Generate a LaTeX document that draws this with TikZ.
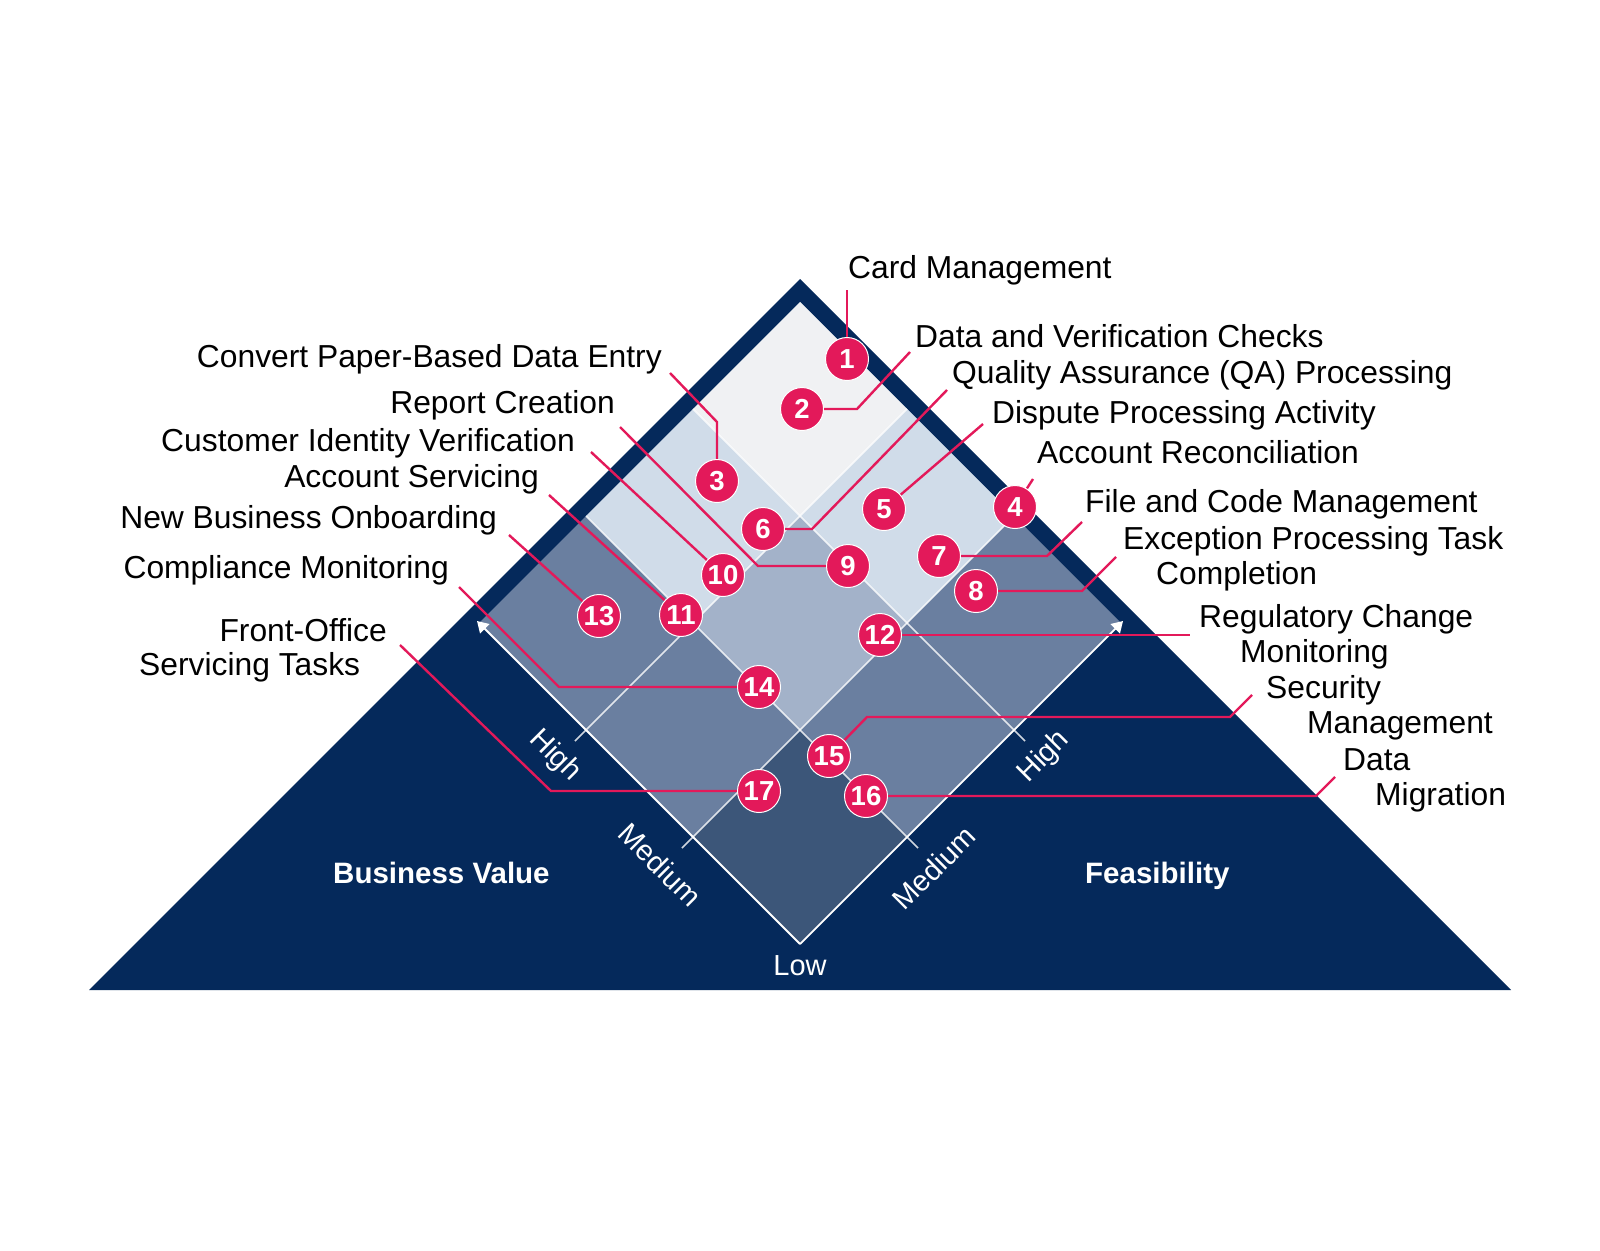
\documentclass[tikz,border=0pt]{standalone}
\usepackage{fontspec}
\setmainfont{Liberation Sans}
\usetikzlibrary{arrows.meta}
\definecolor{navy}{HTML}{05295B}
\definecolor{crim}{HTML}{E3195A}
\definecolor{cTop}{HTML}{F0F1F3}
\definecolor{cLight}{HTML}{D0DCE9}
\definecolor{cMid}{HTML}{A3B2C9}
\definecolor{cSlate}{HTML}{6A7FA0}
\definecolor{cDeep}{HTML}{3C5679}
\begin{document}
\begin{tikzpicture}[x=1pt,y=-1pt,
  bub/.style={circle, fill=crim, draw=white, line width=1pt, minimum size=43pt, inner sep=0pt, text=white, font=\fontsize{27.5}{27.5}\selectfont\bfseries},
  lead/.style={draw=crim, line width=2.4pt},
  lbl/.style={font=\fontsize{31.8}{36}\selectfont, text=black, inner sep=0pt},
  axl/.style={font=\fontsize{29}{34}\selectfont, text=white, inner sep=0pt},
  ttl/.style={font=\fontsize{29.5}{34}\selectfont\bfseries, text=white, inner sep=0pt},
  gridln/.style={draw=white, line width=1.6pt, opacity=0.8},
  edge/.style={draw=white, line width=1.8pt, -{Triangle[width=13pt,length=11pt]}},
]
\useasboundingbox (0,0) rectangle (1600,1250);
\fill[white] (0,0) rectangle (1600,1250);

% outer triangle
\fill[navy] (800,279) -- (1511,990) -- (89,990) -- cycle;

% diamond cells
\fill[cSlate] (800,944) -- (1121,623) -- (800,302) -- (479,623) -- cycle;
\fill[cDeep] (800,944) -- (907,837) -- (800,730) -- (693,837) -- cycle;
\fill[cMid] (800,730) -- (907,623) -- (800,516) -- (693,623) -- cycle;
\fill[cLight] (693,623) -- (800,516) -- (693,409) -- (586,516) -- cycle;
\fill[cLight] (907,623) -- (1014,516) -- (907,409) -- (800,516) -- cycle;
\fill[cTop] (800,516) -- (907,409) -- (800,302) -- (693,409) -- cycle;

% grid lines with ticks
\draw[gridln] (682,848) -- (1014,516);
\draw[gridln] (575,741) -- (907,409);
\draw[gridln] (918,848) -- (586,516);
\draw[gridln] (1025,741) -- (693,409);

% axes
\draw[edge] (800,944) -- (477,621);
\draw[edge] (800,944) -- (1123,621);

% axis labels
\node[axl, rotate=-45] (hiL) at (555,756) {High};
\node[axl, rotate=-45] (meL) at (660,865) {Medium};
\node[axl, rotate=45] (hiR) at (1044,757) {High};
\node[axl, rotate=45] (meR) at (934,868) {Medium};
\node[axl, anchor=base] (low) at (800,975) {Low};
\node[ttl, anchor=base west] (bv) at (333,883) {Business Value};
\node[ttl, anchor=base west] (fe) at (1085,883) {Feasibility};

% bubbles (positions)
\coordinate (p1) at (847,359);
\coordinate (p2) at (802,409);
\coordinate (p3) at (717,481);
\coordinate (p4) at (1015,507);
\coordinate (p5) at (884,509);
\coordinate (p6) at (763,529);
\coordinate (p7) at (939,556);
\coordinate (p8) at (976,591);
\coordinate (p9) at (848,566);
\coordinate (p10) at (723,575);
\coordinate (p11) at (681,615);
\coordinate (p12) at (880,635);
\coordinate (p13) at (599,616);
\coordinate (p14) at (759,687);
\coordinate (p15) at (829,756);
\coordinate (p16) at (866,796);
\coordinate (p17) at (759,791);

% labels
\node[lbl, anchor=base west] (t1) at (848,278) {Card Management};
\node[lbl, anchor=base west] (t2) at (915,347) {Data and Verification Checks};
\node[lbl, anchor=base east] (t3) at (662,367) {Convert Paper-Based Data Entry};
\node[lbl, anchor=base west] (t4) at (1037,463) {Account Reconciliation};
\node[lbl, anchor=base west] (t5) at (992,423) {Dispute Processing Activity};
\node[lbl, anchor=base west] (t6) at (952,383) {Quality Assurance (QA) Processing};
\node[lbl, anchor=base west] (t7) at (1085,512) {File and Code Management};
\node[lbl, anchor=base west] (t8a) at (1123,549) {Exception Processing Task};
\node[lbl, anchor=base west] (t8b) at (1156,584) {Completion};
\node[lbl, anchor=base east] (t9) at (615,413) {Report Creation};
\node[lbl, anchor=base east] (t10) at (575,451) {Customer Identity Verification};
\node[lbl, anchor=base east] (t11) at (539,487) {Account Servicing};
\node[lbl, anchor=base west] (t12a) at (1199,627) {Regulatory Change};
\node[lbl, anchor=base west] (t12b) at (1240,662) {Monitoring};
\node[lbl, anchor=base east] (t13) at (497,528) {New Business Onboarding};
\node[lbl, anchor=base east] (t14) at (449,578) {Compliance Monitoring};
\node[lbl, anchor=base west] (t15a) at (1266,698) {Security};
\node[lbl, anchor=base west] (t15b) at (1307,733) {Management};
\node[lbl, anchor=base west] (t16a) at (1343,770) {Data};
\node[lbl, anchor=base west] (t16b) at (1375,805) {Migration};
\node[lbl, anchor=base east] (t17a) at (387,641) {Front-Office};
\node[lbl, anchor=base west] (t17b) at (139,675) {Servicing Tasks};

% leader end points
\coordinate (e1) at (847,290);
\coordinate (e2) at (910,352);
\coordinate (e3) at (670,373);
\coordinate (e4) at (1033,479);
\coordinate (e5) at (983,424);
\coordinate (e6) at (947,390);
\coordinate (e7) at (1082,522);
\coordinate (e8) at (1116,557);
\coordinate (e9) at (620,427);
\coordinate (e10) at (591,452);
\coordinate (e11) at (549,495);
\coordinate (e12) at (1190,635);
\coordinate (e13) at (509,535);
\coordinate (e14) at (459,587);
\coordinate (e15) at (1252,695);
\coordinate (e16) at (1335,777);
\coordinate (e17) at (400,645);

% leaders
\draw[lead] (p1) -- (e1);
\draw[lead] (p2) -- (857,409) -- (e2);
\draw[lead] (p3) -- (717,422) -- (e3);
\draw[lead] (p4) -- (e4);
\draw[lead] (p5) -- (e5);
\draw[lead] (p6) -- (812,529) -- (e6);
\draw[lead] (p7) -- (1047,556) -- (e7);
\draw[lead] (p8) -- (1082,591) -- (e8);
\draw[lead] (p9) -- (758,566) -- (e9);
\draw[lead] (p10) -- (e10);
\draw[lead] (p11) -- (e11);
\draw[lead] (p12) -- (e12);
\draw[lead] (p13) -- (e13);
\draw[lead] (p14) -- (559,687) -- (e14);
\draw[lead] (p15) -- (867,717) -- (1230,717) -- (e15);
\draw[lead] (p16) -- (1316,796) -- (e16);
\draw[lead] (p17) -- (551,791) -- (e17);

% bubbles
\foreach \i in {1,...,17} {
  \node[bub] (b\i) at (p\i) {\i};
}
\end{tikzpicture}
\end{document}
